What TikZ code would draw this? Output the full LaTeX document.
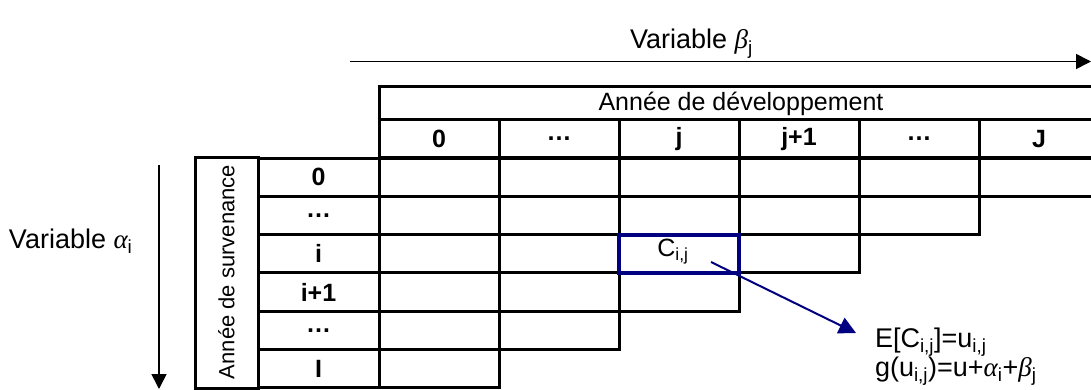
\documentclass[tikz,border=0pt]{standalone}
\usepackage{fontspec}
\setmainfont{Liberation Sans}
\newfontfamily\greekfont{Liberation Serif}
\usetikzlibrary{arrows.meta}
\definecolor{navyblue}{RGB}{0,0,128}
\newcommand\galpha{{\greekfont\itshape α}}
\newcommand\gbeta{{\greekfont\itshape β}}
\newcommand\lo[1]{\textsubscript{#1}}

\begin{document}
\begin{tikzpicture}[x=1pt,y=-1pt,
  every node/.style={inner sep=0pt,outer sep=0pt},
  lbl/.style={font=\fontsize{25}{30}\selectfont},
  big/.style={font=\fontsize{27}{32}\selectfont},
  hdr/.style={font=\bfseries\fontsize{25}{30}\selectfont},
  cell/.style={draw=black,line width=3pt,minimum width=120pt,minimum height=38.33pt},
  axis/.style={line width=1.6pt,-{Triangle[length=15pt,width=15pt]}},
  link/.style={navyblue,line width=2pt,-{Triangle[length=17pt,width=17pt]}}]
\useasboundingbox (0,0) rectangle (1091,390);
\clip (0,0) rectangle (1091,390);
\fill[white] (0,0) rectangle (1091,390);

% axis labels and arrows
\node[big,anchor=base west] (vb) at (630,49) {Variable \gbeta\lo{j}};
\coordinate (tl) at (350,61.5);
\coordinate (tr) at (1091,61.5);
\draw[axis] (tl) -- (tr);

\node[big,anchor=base west] (va) at (9,248) {Variable \galpha\lo{i}};
\coordinate (vt) at (159,165);
\coordinate (vbot) at (159,389);
\draw[axis] (vt) -- (vbot);

% column headers
\node[cell,minimum width=720pt,minimum height=33pt] (title) at (739,103.5) {};
\node[lbl] at (741,103.5) {Année de développement};
\foreach \c/\t in {0/0,1/…,2/j,3/j+1,4/…,5/J}{
  \node[cell,minimum height=38pt,hdr] (h\c) at ({439+120*\c},139) {\t};
}

% row headers
\node[cell,minimum width=63pt,minimum height=230pt] (side) at (226.5,273) {};
\node[rotate=90,font=\fontsize{22}{26}\selectfont] at (226.5,272) {Année de survenance};
\foreach \r/\t in {0/0,1/…,2/i,3/i+1,4/…,5/I}{
  \node[cell,minimum width=121pt,hdr] (r\r) at (318.5,{177.17+38.33*\r}) {\t};
}

% triangle of data cells
\foreach \r in {0,...,5}{
  \pgfmathtruncatemacro\n{5-\r}
  \foreach \c in {0,...,\n}{
    \node[cell] (d\r\c) at ({439+120*\c},{177.17+38.33*\r}) {};
  }
}

% highlighted cell and its model
\draw[navyblue,line width=4.2pt] (d22.north west) rectangle (d22.south east);
\node[lbl,anchor=base] (cij) at (673,256) {C\lo{i,j}};
\coordinate (from) at (711,262);
\coordinate (tip) at (856,333);
\draw[link] (from) -- (tip);
\node[big,anchor=base west] (e1) at (875,347) {E[C\lo{i,j}]=u\lo{i,j}};
\node[big,anchor=base west] (e2) at (875,376) {g(u\lo{i,j})=u+\galpha\lo{i}+\gbeta\lo{j}};
\end{tikzpicture}
\end{document}
